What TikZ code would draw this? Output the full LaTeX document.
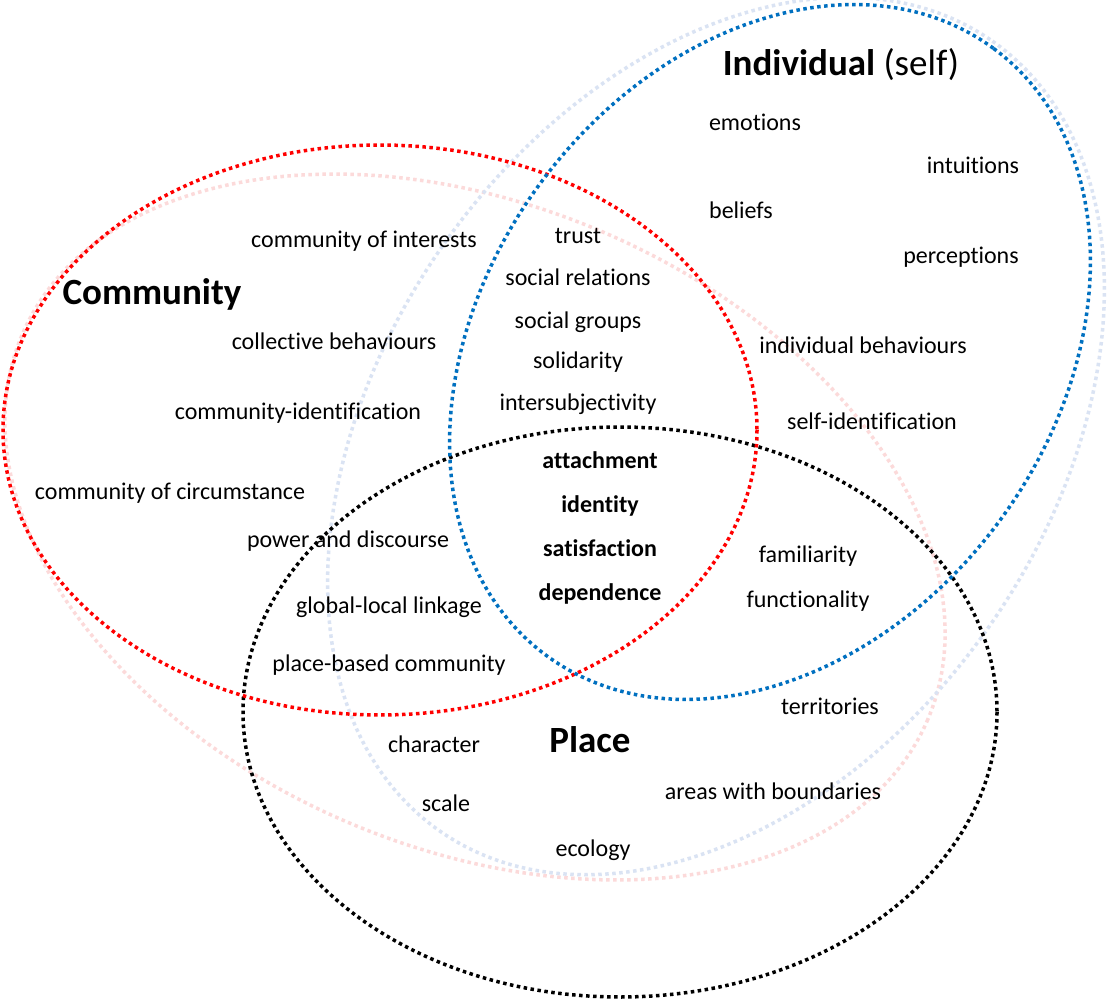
\documentclass[tikz,border=0pt]{standalone}
\usepackage{fontspec}
\setmainfont{Carlito}[Ligatures=NoCommon]
\definecolor{cred}{RGB}{255,0,0}
\definecolor{cblue}{RGB}{0,112,192}
\definecolor{fred}{RGB}{252,218,218}
\definecolor{fblue}{RGB}{218,227,243}
\begin{document}
\begin{tikzpicture}[x=1pt,y=-1pt,
  ring/.style={line width=3.5pt, dash pattern=on 3.5pt off 3.5pt},
  lbl/.style={font=\fontsize{24}{28}\selectfont, inner sep=0pt, anchor=base},
  blbl/.style={lbl, font=\fontsize{24}{28}\selectfont\bfseries},
  title/.style={inner sep=0pt, anchor=base, font=\fontsize{37}{44}\selectfont\bfseries}]
\useasboundingbox (0,0) rectangle (1108,1000);
\fill[white] (0,0) rectangle (1108,1000);
% faded ellipses
\draw[ring, fred, rotate around={-23:(475,527)}] (475,527) ellipse [x radius=492, y radius=321.5];
\draw[ring, fblue, rotate around={55:(716,436)}] (716,436) ellipse [x radius=482, y radius=333];
% main ellipses
\draw[ring, black] (620,712) ellipse [x radius=377, y radius=285];
\draw[ring, cred] (380,430) ellipse [x radius=377, y radius=285];
\draw[ring, cblue, rotate around={53.6:(770,352)}] (770,352) ellipse [x radius=377, y radius=285];
% titles
\node[title] (indiv) at (841,76) {Individual \mdseries(self)};
\node[title] (comm) at (152,305) {Community};
\node[title] (place) at (590,752) {Place};
% individual
\node[lbl] (emo) at (755,131) {emotions};
\node[lbl] (intu) at (973,174) {intuitions};
\node[lbl] (bel) at (741,219) {beliefs};
\node[lbl] (perc) at (961,264) {perceptions};
\node[lbl] (ibeh) at (863,353) {individual behaviours};
\node[lbl] (sid) at (872,429) {self-identification};
% community
\node[lbl] (coi) at (364,248) {community of interests};
\node[lbl] (cbeh) at (334,349) {collective behaviours};
\node[lbl] (cid) at (298,419) {community-identification};
\node[lbl] (coc) at (170,499) {community of circumstance};
% community & individual
\node[lbl] (trust) at (578,244) {trust};
\node[lbl] (srel) at (578,286) {social relations};
\node[lbl] (sgr) at (578,328) {social groups};
\node[lbl] (sol) at (578,368) {solidarity};
\node[lbl] (inter) at (578,410) {intersubjectivity};
% centre
\node[blbl] (att) at (600,468) {attachment};
\node[blbl] (ident) at (600,512) {identity};
\node[blbl] (sat) at (600,556) {satisfaction};
\node[blbl] (dep) at (600,600) {dependence};
% community & place
\node[lbl] (pow) at (348,547) {power and discourse};
\node[lbl] (glob) at (389,613) {global-local linkage};
\node[lbl] (pbc) at (389,671) {place-based community};
% individual & place
\node[lbl] (fam) at (808,562) {familiarity};
\node[lbl] (func) at (808,607) {functionality};
% place
\node[lbl] (terr) at (830,714) {territories};
\node[lbl] (char) at (434,752) {character};
\node[lbl] (scale) at (446,811) {scale};
\node[lbl] (areas) at (773,799) {areas with boundaries};
\node[lbl] (eco) at (593,856) {ecology};
\end{tikzpicture}
\end{document}
